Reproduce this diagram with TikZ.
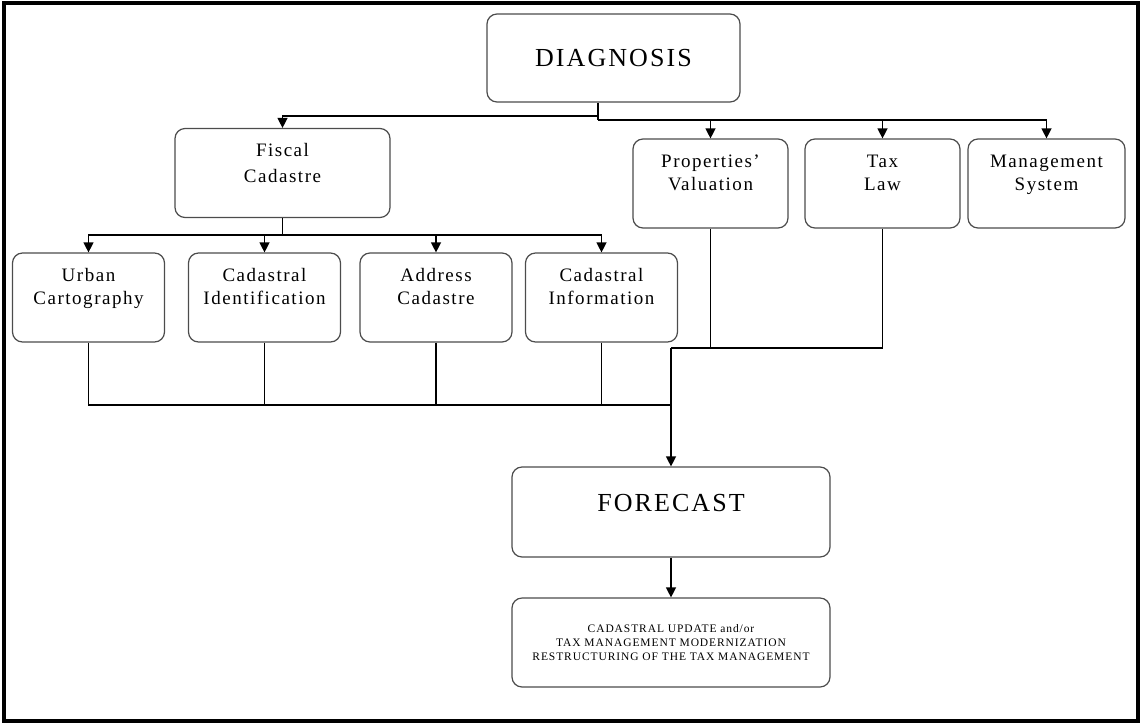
\documentclass[tikz,border=0pt]{standalone}
\usepackage{fontspec}
\setmainfont{Liberation Serif}[LetterSpace=8]
\usetikzlibrary{arrows.meta}

% two-line box label, first baseline 28pt below the top of the box
\newcommand{\boxtext}[1]{\raisebox{0pt}[28pt][61pt]{\begin{tabular}[t]{@{}c@{}}#1\end{tabular}}}

\begin{document}
\begin{tikzpicture}[x=1pt, y=-1pt,
    box/.style={draw=black!70, line width=1.2pt, rounded corners=10pt, inner sep=0pt,
      font=\fontsize{19}{23}\selectfont, minimum width=152pt, minimum height=89pt},
    bigbox/.style={box, font=\fontsize{26}{30}\selectfont, minimum width=318pt, minimum height=90pt},
    smallbox/.style={box, align=center, font=\fontsize{11.5}{14}\selectfont, minimum width=318pt},
    line/.style={line width=1.3pt},
    arrow/.style={line, -{Triangle[length=10pt,width=10pt]}}]

	\useasboundingbox (0,0) rectangle (1141,724);
	\draw[line width=3.5pt] (4,3) rectangle (1138,721);

	% boxes
	\node[bigbox, minimum width=253pt, minimum height=88pt] (diag) at (613.5,58) {DIAGNOSIS};
	\node[box, minimum width=215pt, minimum height=88pt] (fiscal) at (282.5,173) {\boxtext{Fiscal\\[3pt]Cadastre}};
	\node[box, minimum width=155pt] (valuation) at (710.5,183.5) {\boxtext{Properties'\\Valuation}};
	\node[box, minimum width=155pt] (taxlaw) at (882.5,183.5) {\boxtext{Tax\\Law}};
	\node[box, minimum width=157pt] (mgmt) at (1046.5,183.5) {\boxtext{Management\\System}};

	\node[box] (urban) at (88.5,297.5) {\boxtext{Urban\\Cartography}};
	\node[box] (ident) at (264.5,297.5) {\boxtext{Cadastral\\Identification}};
	\node[box] (address) at (436,297.5) {\boxtext{Address\\Cadastre}};
	\node[box] (info) at (601.5,297.5) {\boxtext{Cadastral\\Information}};

	\node[bigbox] (forecast) at (671,512) {\raisebox{0pt}[44pt][46pt]{FORECAST}};
	\node[smallbox] (result) at (671,642.5)
		{CADASTRAL UPDATE and/or\\TAX MANAGEMENT MODERNIZATION\\RESTRUCTURING OF THE TAX MANAGEMENT};

	% joints
	\coordinate (lbus) at (598,116);
	\coordinate (rbus) at (598,120);
	\coordinate (fbus) at (282.5,235);
	\coordinate (midbus) at (671,348);
	\coordinate (lowbus) at (671,405);

	% connectors
	\draw[line] (diag.south -| lbus) -- (rbus);
	\draw[arrow] (lbus) -| (fiscal.north);
	\foreach \n in {valuation,taxlaw,mgmt}
		\draw[arrow] (rbus) -| (\n.north);

	\draw[line] (fiscal.south) -- (fbus);
	\foreach \n in {urban,ident,address,info}
		\draw[arrow] (fbus) -| (\n.north);

	\foreach \n in {urban,ident,address,info}
		\draw[line] (\n.south) |- (lowbus);
	\draw[line] (valuation.south) |- (midbus);
	\draw[line] (taxlaw.south) |- (midbus);
	\draw[arrow] (midbus) -- (forecast.north);

	\draw[arrow] (forecast.south) -- (result.north);

\end{tikzpicture}
\end{document}
